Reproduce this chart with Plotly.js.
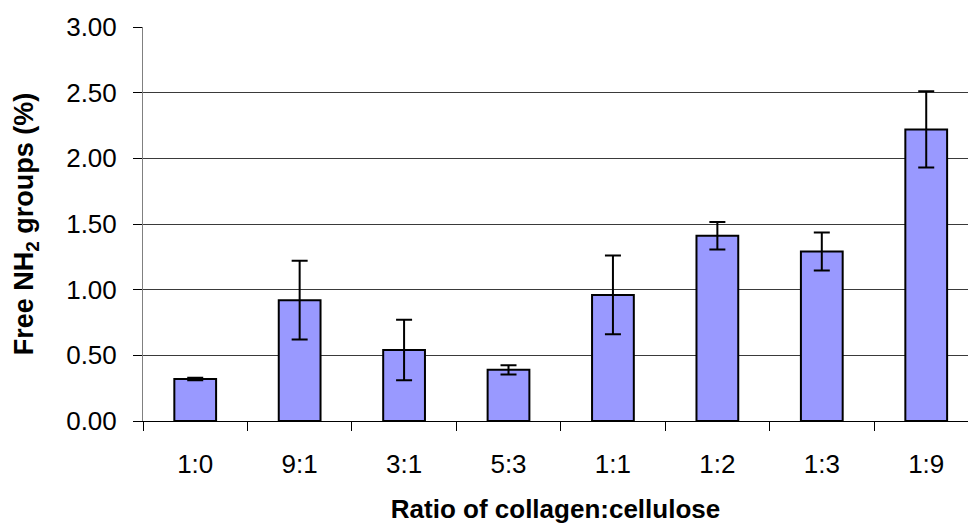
<!DOCTYPE html>
<html>
<head>
<meta charset="utf-8">
<script src="https://cdn.plot.ly/plotly-3.0.1.min.js"></script>
<style>html,body{margin:0;padding:0;background:#fff;}#chart{width:968px;height:524px;}</style>
</head>
<body>
<div id="chart"></div>
<script>
const categories = ["1:0", "9:1", "3:1", "5:3", "1:1", "1:2", "1:3", "1:9"];
const freeNH2 = [0.32, 0.92, 0.54, 0.39, 0.96, 1.41, 1.29, 2.22];
const errorNH2 = [0.01, 0.30, 0.23, 0.035, 0.30, 0.105, 0.145, 0.29];
const yTitle = "Free NH<sub>2</sub> groups (%)";
const xTitle = "Ratio of collagen:cellulose";

const trace = {
  type: "bar",
  x: categories,
  y: freeNH2,
  width: 0.4,
  marker: {color: "#9999FF", line: {color: "#000000", width: 2}},
  error_y: {type: "data", array: errorNH2, visible: true, color: "#000000", thickness: 2, width: 8}
};

const layout = {
  width: 968, height: 524,
  margin: {l: 143, r: 0, t: 27, b: 103},
  paper_bgcolor: "#ffffff", plot_bgcolor: "#ffffff",
  showlegend: false,
  font: {family: "Liberation Sans, Arial, sans-serif", size: 26, color: "#000"},
  xaxis: {
    type: "category",
    range: [-0.5, 7.40],
    tickson: "boundaries",
    ticks: "outside", ticklen: 9, tickcolor: "#000", tickwidth: 1,
    showline: true, linecolor: "#000", linewidth: 1,
    showgrid: false,
    ticklabelstandoff: 20,
    tickfont: {size: 26},
    title: {text: xTitle, font: {size: 26, family: "Liberation Sans, Arial, sans-serif", weight: "bold"}, standoff: 23}
  },
  yaxis: {
    range: [0, 3],
    dtick: 0.5, tick0: 0,
    tickformat: ".2f",
    ticks: "outside", ticklen: 9, tickcolor: "#000", tickwidth: 1,
    showline: true, linecolor: "#808080", linewidth: 1,
    showgrid: true, gridcolor: "#3a3a3a", gridwidth: 1,
    zeroline: false,
    ticklabelstandoff: 11,
    tickfont: {size: 26},
    title: {text: yTitle, font: {size: 27, family: "Liberation Sans, Arial, sans-serif", weight: "bold"}, standoff: 24}
  }
};

Plotly.newPlot("chart", [trace], layout, {displayModeBar: false, staticPlot: true});
</script>
</body>
</html>
